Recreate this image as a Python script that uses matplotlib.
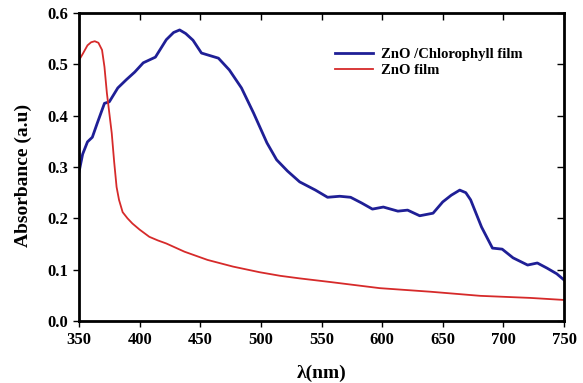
import numpy as np
import matplotlib.pyplot as plt

# ZnO / Chlorophyll film (blue)
wl_chl = [350, 353, 357, 361, 365, 371, 375, 382, 389, 396, 403, 413, 422, 428, 433,
          438, 444, 451, 458, 465, 474, 484, 494, 505, 513, 522, 532, 545, 555, 565,
          574, 583, 592, 601, 613, 621, 631, 642, 650, 657, 664, 669, 673, 682, 691,
          699, 708, 720, 728, 736, 744, 750]
abs_chl = [0.290, 0.325, 0.349, 0.358, 0.385, 0.424, 0.427, 0.454, 0.470, 0.485, 0.503, 0.514, 0.548, 0.562, 0.567,
           0.560, 0.547, 0.522, 0.517, 0.512, 0.489, 0.454, 0.405, 0.347, 0.314, 0.292, 0.271, 0.255, 0.241, 0.243,
           0.241, 0.230, 0.218, 0.222, 0.214, 0.216, 0.205, 0.210, 0.232, 0.245, 0.255, 0.250, 0.236, 0.183, 0.142,
           0.140, 0.123, 0.109, 0.113, 0.103, 0.092, 0.080]

# ZnO film (red)
wl_zno = [350, 353, 357, 360, 363, 366, 369, 371, 373, 375, 377, 379, 381, 383, 386,
          390, 394, 400, 408, 415, 422, 437, 456, 477, 499, 516, 532, 557, 598, 640,
          681, 722, 750]
abs_zno = [0.508, 0.520, 0.537, 0.543, 0.545, 0.542, 0.528, 0.495, 0.444, 0.405, 0.366, 0.310, 0.261, 0.236, 0.212,
           0.200, 0.190, 0.178, 0.164, 0.157, 0.151, 0.135, 0.119, 0.106, 0.095, 0.088, 0.083, 0.076, 0.064, 0.057,
           0.049, 0.045, 0.041]

plt.rcParams['font.family'] = ['Liberation Serif', 'DejaVu Serif']
plt.rcParams['font.weight'] = 'bold'

fig = plt.figure(figsize=(5.83, 3.83), dpi=100)
ax = fig.add_axes([79 / 583, 1 - 321 / 383, (564 - 79) / 583, (321 - 13) / 383])

ax.plot(wl_chl, abs_chl, color='#1f1f96', lw=2.0, label='ZnO /Chlorophyll film')
ax.plot(wl_zno, abs_zno, color='#d62a2a', lw=1.3, label='ZnO film')

ax.set_xlim(350, 750)
ax.set_ylim(0, 0.6)
ax.set_xticks(np.arange(350, 751, 50))
ax.set_yticks(np.arange(0, 0.61, 0.1))
ax.set_yticklabels(['%.1f' % v for v in np.arange(0, 0.61, 0.1)])
ax.tick_params(labelsize=12, width=1, length=4, pad=4, direction='out')
ax.tick_params(top=True, right=True)
for t in ax.xaxis.get_major_ticks():
    t.tick2line.set_marker(3)
    t.tick2line.set_markersize(5)
for t in ax.yaxis.get_major_ticks():
    t.tick2line.set_marker(0)
    t.tick2line.set_markersize(5)
for s in ax.spines.values():
    s.set_linewidth(2)

ax.set_xlabel('λ(nm)', fontsize=14, fontweight='bold', labelpad=12)
ax.set_ylabel('Absorbance (a.u)', fontsize=14, fontweight='bold')
ax.yaxis.set_label_coords(-0.097, 0.474)

leg = ax.legend(loc='upper left', bbox_to_anchor=(0.5, 0.93), frameon=False,
                fontsize=10.5, handlelength=2.6, handletextpad=0.6, labelspacing=0.2)
for t in leg.get_texts():
    t.set_fontweight('bold')

fig.savefig('out.png', dpi=100)
